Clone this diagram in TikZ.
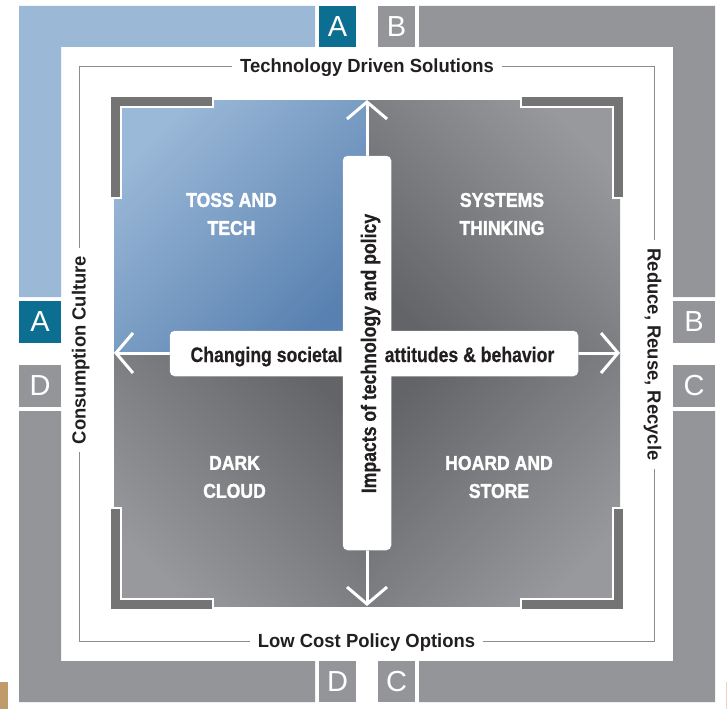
\documentclass[tikz,border=0pt]{standalone}
\usepackage{fontspec}
\setmainfont{Liberation Sans}
\newfontfamily\framefont{Liberation Sans}[FakeStretch=0.97]
\newfontfamily\quadfont{Liberation Sans}[FakeStretch=0.88,FakeBold=1.6]
\newfontfamily\condfont{Liberation Sans}[FakeStretch=0.84,FakeBold=0.5]
\usetikzlibrary{arrows.meta,shadows}
\definecolor{lblue}{HTML}{9BB8D6}
\definecolor{aTeal}{HTML}{0C6F91}
\definecolor{fgray}{HTML}{939598}
\definecolor{brk}{HTML}{747474}
\definecolor{qblueL}{HTML}{9AB8D7}
\definecolor{qblueD}{HTML}{5880B0}
\definecolor{qgrayL}{HTML}{98999C}
\definecolor{qgrayD}{HTML}{636467}
\definecolor{txt}{HTML}{231F20}
\definecolor{lineg}{HTML}{8C8C8C}
\definecolor{boxg}{HTML}{626365}
\definecolor{tanc}{HTML}{C19A6B}
\begin{document}
\begin{tikzpicture}[x=1pt,y=-1pt,
  lbox/.style={inner sep=0pt, text=white, font=\fontsize{29}{29}\selectfont},
  frametext/.style={font=\framefont\bfseries\fontsize{19}{22}\selectfont, text=txt, text height=13pt, text depth=0pt, inner xsep=8pt, inner ysep=0pt},
  frameline/.style={draw=lineg, line width=1pt},
  quadlabel/.style={font=\quadfont\bfseries\fontsize{20}{28}\selectfont, text=white, align=center, inner sep=0pt},
  ctext/.style={font=\condfont\bfseries\fontsize{21}{24}\selectfont, text=txt, inner sep=0pt},
  cbox/.style={draw=boxg, line width=2.5pt, fill=white, rounded corners=5pt, inner sep=0pt, drop shadow={opacity=0.3, shadow xshift=1.5pt, shadow yshift=-1.5pt}},
  bracketsty/.style={fill=brk, draw=white, line width=1.5pt},
  arr/.style={draw=white, line width=3pt, arrows={Straight Barb[length=17pt,width=40pt]-Straight Barb[length=17pt,width=40pt]}}
]
\useasboundingbox (0,0) rectangle (727,709);
\fill[white] (0,0) rectangle (727,709);
\fill[tanc] (0,682) rectangle (8,709);
\fill[tanc!40] (725.5,682) rectangle (727,709);

% outer frame L shapes
\fill[lblue] (19,6) -- (315,6) -- (315,47) -- (61,47) -- (61,297) -- (19,297) -- cycle;
\fill[fgray] (419,6) -- (715,6) -- (715,297) -- (673,297) -- (673,47) -- (419,47) -- cycle;
\fill[fgray] (673,411) -- (715,411) -- (715,702) -- (419,702) -- (419,661) -- (673,661) -- cycle;
\fill[fgray] (19,411) -- (61,411) -- (61,661) -- (315,661) -- (315,702) -- (19,702) -- cycle;

% letter boxes
\node[lbox, fill=aTeal, minimum width=37pt, minimum height=41pt] (a1) at (337.5,26.5) {A};
\node[lbox, fill=aTeal, minimum width=42pt, minimum height=42pt] (a2) at (40,322) {A};
\node[lbox, fill=fgray, minimum width=37pt, minimum height=41pt] (b1) at (396.5,26.5) {B};
\node[lbox, fill=fgray, minimum width=42pt, minimum height=42pt] (b2) at (694,322) {B};
\node[lbox, fill=fgray, minimum width=42pt, minimum height=42pt] (c1) at (694,386) {C};
\node[lbox, fill=fgray, minimum width=37pt, minimum height=41pt] (c2) at (396.5,681.5) {C};
\node[lbox, fill=fgray, minimum width=42pt, minimum height=42pt] (d1) at (40,386) {D};
\node[lbox, fill=fgray, minimum width=37pt, minimum height=41pt] (d2) at (337.5,681.5) {D};

% frame texts and lines
\node[frametext] (ttext) at (367,66) {Technology Driven Solutions};
\node[frametext] (btext) at (366.5,641) {Low Cost Policy Options};
\node[frametext, rotate=90] (ltext) at (79,350) {Consumption Culture};
\node[frametext, rotate=-90] (rtext) at (654,354.5) {Reduce, Reuse, Recycle};
\draw[frameline] (ttext.west) -| (ltext.east);
\draw[frameline] (ttext.east) -| (rtext.west);
\draw[frameline] (btext.east) -| (rtext.east);
\draw[frameline] (btext.west) -| (ltext.west);

% quadrants
\shade[top color=qblueL, bottom color=qblueD, shading angle=45] (114,100) rectangle (367,353);
\shade[top color=qgrayL, bottom color=qgrayD, shading angle=-45] (367,100) rectangle (620,353);
\shade[top color=qgrayL, bottom color=qgrayD, shading angle=135] (114,353) rectangle (367,606);
\shade[top color=qgrayL, bottom color=qgrayD, shading angle=-135] (367,353) rectangle (620,606);

% corner brackets
\filldraw[bracketsty] (110,96) -- (213,96) -- (213,107) -- (121,107) -- (121,198) -- (110,198) -- cycle;
\filldraw[bracketsty] (624,96) -- (521,96) -- (521,107) -- (613,107) -- (613,198) -- (624,198) -- cycle;
\filldraw[bracketsty] (110,610) -- (213,610) -- (213,599) -- (121,599) -- (121,508) -- (110,508) -- cycle;
\filldraw[bracketsty] (624,610) -- (521,610) -- (521,599) -- (613,599) -- (613,508) -- (624,508) -- cycle;

% arrows
\coordinate (aT) at (367,100);
\coordinate (aB) at (367,606);
\coordinate (aL) at (114,353);
\coordinate (aR) at (620,353);
\draw[arr] (aB) -- (aT);
\draw[arr] (aL) -- (aR);

% quadrant labels
\node[quadlabel] (q1) at (231.5,214) {TOSS AND\\TECH};
\node[quadlabel] (q2) at (502,214) {SYSTEMS\\THINKING};
\node[quadlabel] (q3) at (234.5,477) {DARK\\CLOUD};
\node[quadlabel] (q4) at (499,477) {HOARD AND\\STORE};

% centre cross boxes
\node[cbox, minimum width=406pt, minimum height=43pt] (hbox) at (374,353.5) {};
\node[cbox, minimum width=46pt, minimum height=392pt] (vbox) at (367,353) {};
\fill[white, rounded corners=5pt] (hbox.south west) rectangle (hbox.north east);
\fill[white, rounded corners=5pt] (vbox.south west) rectangle (vbox.north east);

\node[ctext, anchor=base] (cs) at (266.5,362) {Changing societal};
\node[ctext, anchor=base] (ab) at (469.5,362) {attitudes \& behavior};
\node[ctext, rotate=90, text height=15pt, text depth=0pt] (ip) at (368.5,353.5) {Impacts of technology and policy};
\end{tikzpicture}
\end{document}
